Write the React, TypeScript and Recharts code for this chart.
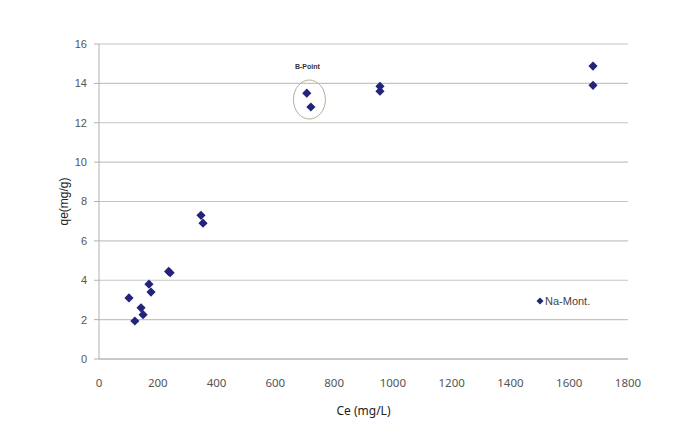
import React from 'react';
import {
  ScatterChart, Scatter, XAxis, YAxis, CartesianGrid, ReferenceDot,
} from 'recharts';

const ceValues = [102, 122, 143, 150, 170, 177, 237, 242, 347, 354, 707, 721, 956, 956, 1681, 1681];
const qeValues = [3.1, 1.93, 2.6, 2.25, 3.8, 3.4, 4.45, 4.38, 7.3, 6.9, 13.5, 12.8, 13.85, 13.6, 14.88, 13.9];
const xTicks = [0, 200, 400, 600, 800, 1000, 1200, 1400, 1600, 1800];
const yTicks = [0, 2, 4, 6, 8, 10, 12, 14, 16];
const seriesName = 'Na-Mont.';
const yTitle = 'qe(mg/g)';
const bPoint = { ce: 716, qe: 13.18, label: 'B-Point' };

const NAVY = '#23237a';
const FONT = '"Liberation Sans", Arial, sans-serif';

const data = ceValues.map((ce, i) => ({ ce, qe: qeValues[i] }));

function Diamond(props: any) {
  const { cx, cy } = props;
  const r = 4.6;
  return (
    <polygon
      points={`${cx},${cy - r} ${cx + r},${cy} ${cx},${cy + r} ${cx - r},${cy}`}
      fill={NAVY}
    />
  );
}

function Circled(props: any) {
  const { cx, cy } = props;
  return (
    <g>
      <ellipse cx={cx} cy={cy} rx={16} ry={19.5} fill="none" stroke="#b9ad94" strokeWidth={1} />
      <text x={cx - 2} y={cy - 31} textAnchor="middle" fontFamily={FONT} fontSize={7} fontWeight="bold" fill="#333">
        {bPoint.label}
      </text>
    </g>
  );
}

function YTitle(props: any) {
  const { viewBox } = props;
  const x = viewBox.x + 5;
  const y = viewBox.y + viewBox.height / 2;
  return (
    <text x={x} y={y} transform={`rotate(-90 ${x} ${y})`} textAnchor="middle" dominantBaseline="central"
      fontFamily={FONT} fontSize={12} fill="#222">
      {yTitle}
    </text>
  );
}

// legend sits inside the plot, so it is placed by hand instead of through <Legend>
function LegendBox() {
  return (
    <div style={{
      position: 'absolute', left: 536, top: 295, display: 'flex', alignItems: 'center',
      fontFamily: FONT, fontSize: 11, color: '#444',
    }}>
      <svg width={8} height={8} style={{ marginRight: 1 }}>
        <polygon points="4,0.5 7.5,4 4,7.5 0.5,4" fill={NAVY} />
      </svg>
      {seriesName}
    </div>
  );
}

export default function App() {
  return (
    <div style={{ position: 'relative', width: 698, height: 440, background: '#fff' }}>
      <style>{'body{margin:0}'}</style>
      <ScatterChart width={698} height={440} margin={{ top: 44, right: 70, bottom: 51, left: 59 }}>
        <CartesianGrid vertical={false} stroke="#c4c4c4" strokeWidth={1.2} />
        <XAxis
          type="number"
          dataKey="ce"
          domain={[0, 1800]}
          ticks={xTicks}
          height={30}
          tickLine={false}
          tickMargin={14}
          axisLine={{ stroke: '#b0b0b0' }}
          tick={{ fill: '#555', fontSize: 11.5, fontFamily: '"Noto Sans", sans-serif' }}
          label={{ value: 'Ce (mg/L)', position: 'insideBottom', offset: -26, fill: '#222', fontSize: 12, fontFamily: '"Noto Sans", sans-serif' }}
        />
        <YAxis
          type="number"
          dataKey="qe"
          domain={[0, 16]}
          ticks={yTicks}
          width={40}
          tickSize={5}
          tickMargin={7}
          tickLine={{ stroke: '#b0b0b0' }}
          axisLine={{ stroke: '#b0b0b0' }}
          tick={{ fill: '#555', fontSize: 11, fontFamily: FONT }}
          label={<YTitle />}
        />
        <Scatter name={seriesName} data={data} fill={NAVY} shape={<Diamond />} isAnimationActive={false} />
        <ReferenceDot x={bPoint.ce} y={bPoint.qe} shape={<Circled />} ifOverflow="visible" />
      </ScatterChart>
      <LegendBox />
    </div>
  );
}
